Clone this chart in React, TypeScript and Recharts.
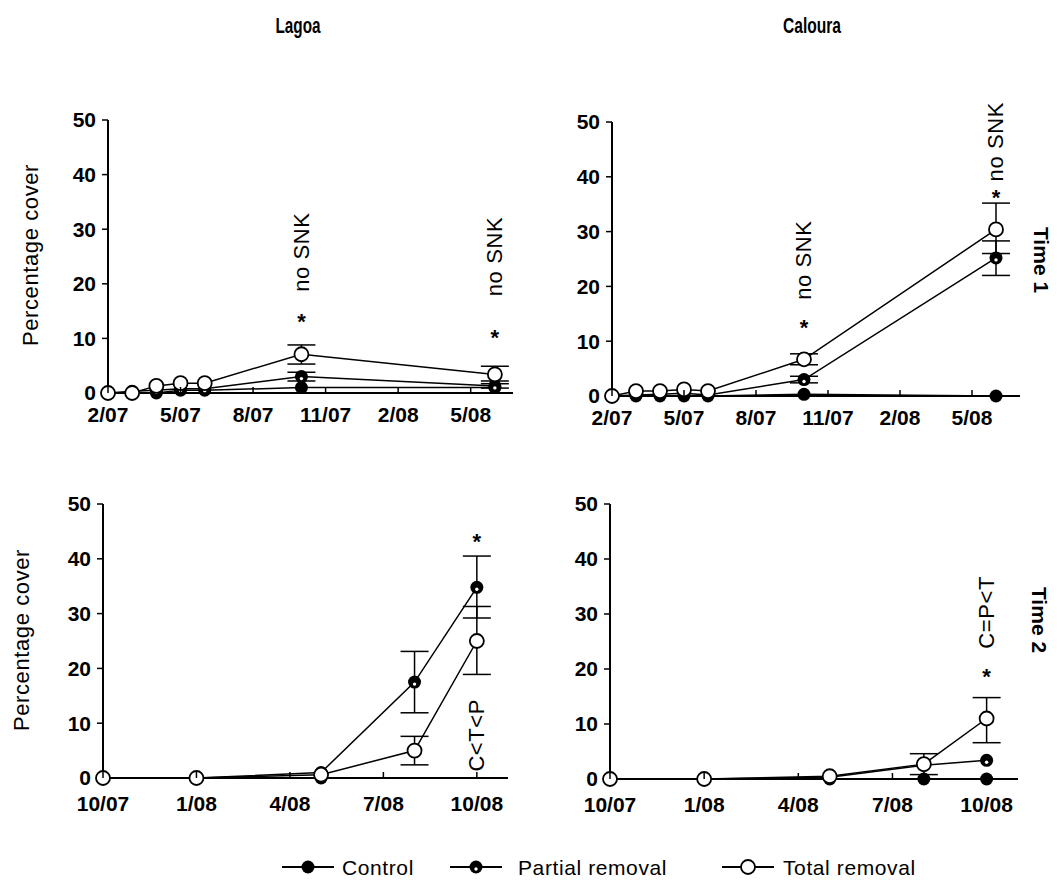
import React from 'react';
import { LineChart, Line, XAxis, YAxis, ErrorBar, ReferenceDot } from 'recharts';

const FONT = '"Liberation Sans", Arial, Helvetica, sans-serif';

// ---- axes ----
const yTicks = [0, 10, 20, 30, 40, 50];

// Time 1: months since Feb 2007
const time1Months = [0, 1, 2, 3, 4, 8, 16];
const time1Ticks = [0, 3, 6, 9, 12, 15];
const time1TickLabels = ['2/07', '5/07', '8/07', '11/07', '2/08', '5/08'];

// Time 2: months since Oct 2007
const time2Months = [0, 3, 7, 10, 12];
const time2Ticks = [0, 3, 6, 9, 12];
const time2TickLabels = ['10/07', '1/08', '4/08', '7/08', '10/08'];

// ---- Lagoa, Time 1 ----
const lagoa1Control = [0, 0, 0, 0.5, 0.5, 1.0, 1.0];
const lagoa1Partial = [0, 0.3, 0.5, 0.8, 0.8, 3.0, 1.3];
const lagoa1Total = [0, 0, 1.3, 1.8, 1.8, 7.1, 3.4];
const lagoa1PartialErr = [null, null, null, null, null, [0.8, 0.8], [0.4, 0.4]];
const lagoa1TotalErr = [null, null, null, null, null, [1.8, 1.7], [1.2, 1.5]];

// ---- Caloura, Time 1 ----
const caloura1Control = [0, 0, 0, 0, 0, 0.3, 0];
const caloura1Partial = [0, 0.2, 0.3, 0.5, 0.2, 3.0, 25.2];
const caloura1Total = [0, 0.9, 0.9, 1.2, 0.9, 6.7, 30.4];
const caloura1PartialErr = [null, null, null, null, null, [0.6, 0.6], [3.2, 3.1]];
const caloura1TotalErr = [null, null, null, null, null, [1.0, 1.0], [4.4, 4.8]];

// ---- Lagoa, Time 2 ----
const lagoa2Control = [0, 0, 0, null, null];
const lagoa2Partial = [0, 0, 1.0, 17.5, 34.8];
const lagoa2Total = [0, 0, 0.6, 5.0, 25.0];
const lagoa2PartialErr = [null, null, null, [5.6, 5.6], [5.6, 5.7]];
const lagoa2TotalErr = [null, null, null, [2.6, 2.6], [6.1, 6.3]];

// ---- Caloura, Time 2 ----
const caloura2Control = [0, 0, 0, 0, 0];
const caloura2Partial = [0, 0, 0.3, 2.5, 3.4];
const caloura2Total = [0, 0, 0.5, 2.7, 11.0];
const caloura2PartialErr = [null, null, null, null, null];
const caloura2TotalErr = [null, null, null, [1.9, 1.9], [4.4, 3.8]];

// ---- annotations (x in months, y in % cover) ----
const lagoa1Notes = [
  { x: 8, y: 25.8, text: 'no SNK' },
  { x: 8, y: 13.9, text: '*' },
  { x: 16, y: 25.0, text: 'no SNK' },
  { x: 16, y: 11.0, text: '*' },
];
const caloura1Notes = [
  { x: 8, y: 24.8, text: 'no SNK' },
  { x: 8, y: 13.3, text: '*' },
  { x: 16, y: 46.4, text: 'no SNK' },
  { x: 16, y: 37.0, text: '*' },
];
const lagoa2Notes = [
  { x: 12, y: 44.0, text: '*' },
  { x: 12, y: 7.8, text: 'C<T<P' },
];
const caloura2Notes = [
  { x: 12, y: 19.5, text: '*' },
  { x: 12, y: 30.3, text: 'C=P<T' },
];

type Row = {
  m: number;
  control: number | null;
  partial: number | null;
  total: number | null;
  pErr?: number[];
  tErr?: number[];
};

function buildRows(
  months: number[],
  control: (number | null)[],
  partial: (number | null)[],
  total: (number | null)[],
  pErr: (number[] | null)[],
  tErr: (number[] | null)[]
): Row[] {
  return months.map((m, i) => ({
    m,
    control: control[i],
    partial: partial[i],
    total: total[i],
    pErr: pErr[i] ?? undefined,
    tErr: tErr[i] ?? undefined,
  }));
}

const lagoa1Rows = buildRows(time1Months, lagoa1Control, lagoa1Partial, lagoa1Total, lagoa1PartialErr, lagoa1TotalErr);
const caloura1Rows = buildRows(time1Months, caloura1Control, caloura1Partial, caloura1Total, caloura1PartialErr, caloura1TotalErr);
const lagoa2Rows = buildRows(time2Months, lagoa2Control, lagoa2Partial, lagoa2Total, lagoa2PartialErr, lagoa2TotalErr);
const caloura2Rows = buildRows(time2Months, caloura2Control, caloura2Partial, caloura2Total, caloura2PartialErr, caloura2TotalErr);

const ok = (p: any) => p && p.cx != null && p.cy != null && !isNaN(p.cx) && !isNaN(p.cy) && p.value != null;

const controlDot = (p: any) =>
  ok(p) ? <circle key={`c${p.index}`} cx={p.cx} cy={p.cy} r={6.5} fill="#000" /> : <g key={`c${p.index}`} />;

const partialDot = (p: any) =>
  ok(p) ? (
    <g key={`p${p.index}`}>
      <circle cx={p.cx} cy={p.cy} r={6.5} fill="#000" />
      <circle cx={p.cx} cy={p.cy + 2} r={1.7} fill="#fff" />
    </g>
  ) : (
    <g key={`p${p.index}`} />
  );

const totalDot = (p: any) =>
  ok(p) ? (
    <circle key={`t${p.index}`} cx={p.cx} cy={p.cy} r={7} fill="#fff" stroke="#000" strokeWidth={1.8} />
  ) : (
    <g key={`t${p.index}`} />
  );

function renderNote(p: any, text: string) {
  const { cx, cy } = p;
  if (cx == null || cy == null) return <g />;
  if (text === '*') {
    return (
      <text x={cx} y={cy + 12} textAnchor="middle" fontSize={22} fontWeight="bold" fontFamily={FONT} fill="#000">
        *
      </text>
    );
  }
  return (
    <text
      x={cx}
      y={cy}
      transform={`rotate(-90 ${cx} ${cy})`}
      textAnchor="middle"
      dominantBaseline="central"
      fontSize={22}
      letterSpacing={0.6}
      fontFamily={FONT}
      fill="#000"
    >
      {text}
    </text>
  );
}

type PanelProps = {
  rows: Row[];
  ticks: number[];
  tickLabels: string[];
  xMax: number;
  plotLeft: number;
  plotTop: number;
  plotW: number;
  plotH: number;
  labelDy: number;
  notes: { x: number; y: number; text: string }[];
};

function Panel({ rows, ticks, tickLabels, xMax, plotLeft, plotTop, plotW, plotH, labelDy, notes }: PanelProps) {
  const Y_W = 100;
  const M_TOP = 45;
  const M_RIGHT = 12;
  const X_H = 50;
  const left = plotLeft - Y_W;
  const top = plotTop - M_TOP;
  const width = Y_W + plotW + M_RIGHT;
  const height = M_TOP + plotH + X_H;

  const xTick = (p: any) => {
    const idx = ticks.indexOf(p.payload.value);
    return (
      <g key={`xt${p.index}`}>
        <line x1={p.x} x2={p.x} y1={p.y} y2={p.y - 6} stroke="#000" strokeWidth={1.5} />
        <text x={p.x} y={p.y + labelDy} textAnchor="middle" fontSize={21} fontWeight="bold" fontFamily={FONT} fill="#000">
          {idx >= 0 ? tickLabels[idx] : ''}
        </text>
      </g>
    );
  };

  return (
    <div style={{ position: 'absolute', left, top, width, height }}>
      <LineChart width={width} height={height} data={rows} margin={{ top: M_TOP, right: M_RIGHT, bottom: 0, left: 0 }}>
        <XAxis
          dataKey="m"
          type="number"
          domain={[0, xMax]}
          ticks={ticks}
          interval={0}
          height={X_H}
          axisLine={{ stroke: '#000', strokeWidth: 2 }}
          tickLine={false}
          tickSize={0}
          tickMargin={0}
          tick={xTick}
        />
        <YAxis
          type="number"
          domain={[0, 50]}
          ticks={yTicks}
          interval={0}
          width={Y_W}
          axisLine={{ stroke: '#000', strokeWidth: 2 }}
          tickLine={{ stroke: '#000', strokeWidth: 1.5 }}
          tickSize={6}
          tickMargin={6}
          tick={{ fill: '#000', fontSize: 21, fontWeight: 'bold', fontFamily: FONT }}
        />
        <Line
          dataKey="control"
          stroke="#000"
          strokeWidth={1.5}
          dot={controlDot}
          activeDot={false}
          isAnimationActive={false}
        />
        <Line
          dataKey="partial"
          stroke="#000"
          strokeWidth={1.5}
          dot={partialDot}
          activeDot={false}
          isAnimationActive={false}
        >
          <ErrorBar dataKey="pErr" direction="y" width={14} stroke="#000" strokeWidth={1.5} />
        </Line>
        <Line
          dataKey="total"
          stroke="#000"
          strokeWidth={1.5}
          dot={totalDot}
          activeDot={false}
          isAnimationActive={false}
        >
          <ErrorBar dataKey="tErr" direction="y" width={14} stroke="#000" strokeWidth={1.5} />
        </Line>
        {notes.map((n, i) => (
          <ReferenceDot
            key={`n${i}`}
            x={n.x}
            y={n.y}
            r={0}
            ifOverflow="visible"
            shape={(p: any) => renderNote(p, n.text)}
          />
        ))}
      </LineChart>
    </div>
  );
}

const legendItems = [
  { name: 'Control', kind: 'control', lineX: 282, textX: 342 },
  { name: 'Partial removal', kind: 'partial', lineX: 450, textX: 518 },
  { name: 'Total removal', kind: 'total', lineX: 722, textX: 783 },
];

function Overlay() {
  const ly = 867;
  return (
    <svg width={1057} height={891} style={{ position: 'absolute', left: 0, top: 0, pointerEvents: 'none' }}>
      <text x={298} y={33} textAnchor="middle" fontSize={22} fontWeight="bold" fontFamily={FONT} textLength={45} lengthAdjust="spacingAndGlyphs">
        Lagoa
      </text>
      <text x={812} y={33} textAnchor="middle" fontSize={22} fontWeight="bold" fontFamily={FONT} textLength={58} lengthAdjust="spacingAndGlyphs">
        Caloura
      </text>
      <text x={30} y={255} transform="rotate(-90 30 255)" textAnchor="middle" dominantBaseline="central" fontSize={22} letterSpacing={0.6} fontFamily={FONT}>
        Percentage cover
      </text>
      <text x={21} y={640} transform="rotate(-90 21 640)" textAnchor="middle" dominantBaseline="central" fontSize={22} letterSpacing={0.6} fontFamily={FONT}>
        Percentage cover
      </text>
      <text x={1041} y={260} transform="rotate(90 1041 260)" textAnchor="middle" dominantBaseline="central" fontSize={21} fontWeight="bold" fontFamily={FONT}>
        Time 1
      </text>
      <text x={1039} y={620} transform="rotate(90 1039 620)" textAnchor="middle" dominantBaseline="central" fontSize={21} fontWeight="bold" fontFamily={FONT}>
        Time 2
      </text>
      {legendItems.map((it) => {
        const cx = it.lineX + 26;
        return (
          <g key={it.name}>
            <line x1={it.lineX} x2={it.lineX + 52} y1={ly} y2={ly} stroke="#000" strokeWidth={1.8} />
            {it.kind === 'total' ? (
              <circle cx={cx} cy={ly} r={7} fill="#fff" stroke="#000" strokeWidth={1.8} />
            ) : (
              <circle cx={cx} cy={ly} r={6.5} fill="#000" />
            )}
            {it.kind === 'partial' && <circle cx={cx} cy={ly + 2} r={1.7} fill="#fff" />}
            <text x={it.textX} y={ly} dominantBaseline="central" fontSize={21} letterSpacing={0.6} fontFamily={FONT}>
              {it.name}
            </text>
          </g>
        );
      })}
    </svg>
  );
}

export default function App() {
  return (
    <div style={{ position: 'absolute', left: 0, top: 0, width: 1057, height: 891, background: '#fff', overflow: 'hidden' }}>
      <Overlay />
      <Panel rows={lagoa1Rows} ticks={time1Ticks} tickLabels={time1TickLabels} xMax={16.75} plotLeft={108} plotTop={120} plotW={405} plotH={273} labelDy={29} notes={lagoa1Notes} />
      <Panel rows={caloura1Rows} ticks={time1Ticks} tickLabels={time1TickLabels} xMax={17} plotLeft={612} plotTop={122} plotW={408} plotH={274} labelDy={29} notes={caloura1Notes} />
      <Panel rows={lagoa2Rows} ticks={time2Ticks} tickLabels={time2TickLabels} xMax={13} plotLeft={103} plotTop={504} plotW={405} plotH={274} labelDy={33} notes={lagoa2Notes} />
      <Panel rows={caloura2Rows} ticks={time2Ticks} tickLabels={time2TickLabels} xMax={13} plotLeft={610} plotTop={504} plotW={408} plotH={275} labelDy={33} notes={caloura2Notes} />
    </div>
  );
}
